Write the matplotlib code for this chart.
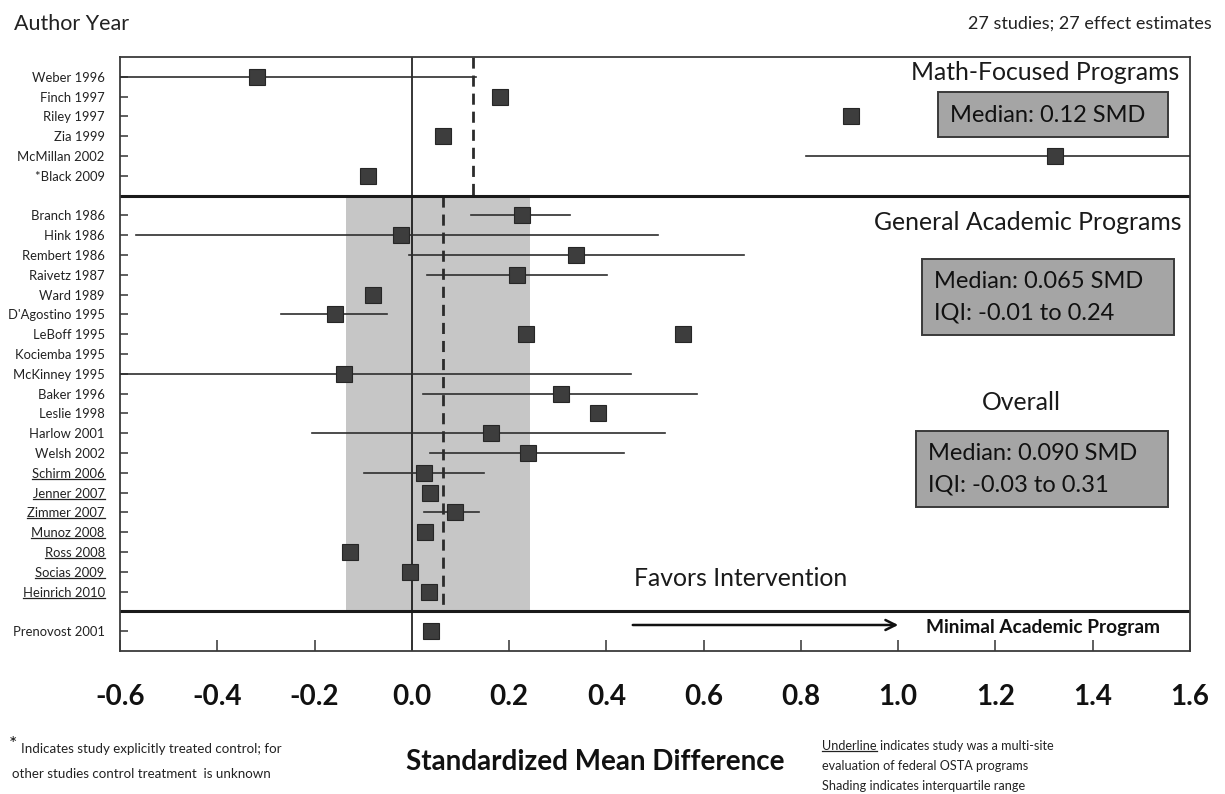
import numpy as np
import matplotlib
matplotlib.use("Agg")
import matplotlib.pyplot as plt
from matplotlib.patches import Rectangle, FancyArrowPatch
from matplotlib.lines import Line2D

plt.rcParams['font.family'] = ['Lato', 'DejaVu Sans']

# studies by group (top to bottom)
math_names = ["Weber 1996", "Finch 1997", "Riley 1997", "Zia 1999", "McMillan 2002", "*Black 2009"]
math_smd = [-0.319, 0.181, 0.903, 0.064, 1.322, -0.090]
math_lo = [-0.70, np.nan, np.nan, np.nan, 0.811, np.nan]
math_hi = [0.132, np.nan, np.nan, np.nan, 1.70, np.nan]

gen_names = ["Branch 1986", "Hink 1986", "Rembert 1986", "Raivetz 1987", "Ward 1989",
             "D'Agostino 1995", "LeBoff 1995", "Kociemba 1995", "McKinney 1995", "Baker 1996",
             "Leslie 1998", "Harlow 2001", "Welsh 2002", "Schirm 2006", "Jenner 2007",
             "Zimmer 2007", "Munoz 2008", "Ross 2008", "Socias 2009", "Heinrich 2010"]
gen_smd = [0.226, -0.023, 0.338, 0.217, -0.080, -0.158, 0.234, 0.557, -0.140, 0.306,
           0.383, 0.162, 0.238, 0.025, 0.038, 0.088, 0.027, -0.127, -0.003, 0.035]
gen_lo = [0.122, -0.567, -0.006, 0.031, np.nan, -0.269, np.nan, np.nan, -0.70, 0.023,
          np.nan, -0.205, 0.038, -0.099, np.nan, 0.025, np.nan, np.nan, np.nan, np.nan]
gen_hi = [0.326, 0.506, 0.683, 0.401, np.nan, -0.051, np.nan, np.nan, 0.450, 0.587,
          np.nan, 0.520, 0.437, 0.148, np.nan, 0.139, np.nan, np.nan, np.nan, np.nan]
# in the source the Kociemba square sits on the LeBoff row
gen_row_shift = [0, 0, 0, 0, 0, 0, 0, -1, 0, 0, 0, 0, 0, 0, 0, 0, 0, 0, 0, 0]
multisite = ["Schirm 2006", "Jenner 2007", "Zimmer 2007", "Munoz 2008", "Ross 2008",
             "Socias 2009", "Heinrich 2010"]

min_names = ["Prenovost 2001"]
min_smd = [0.039]
min_lo = [np.nan]
min_hi = [np.nan]

math_median = 0.125
gen_median = 0.065
shade_lo, shade_hi = -0.135, 0.242

xticks = [-0.6, -0.4, -0.2, 0.0, 0.2, 0.4, 0.6, 0.8, 1.0, 1.2, 1.4, 1.6]

W, H = 1225, 794
fig = plt.figure(figsize=(W / 100, H / 100), dpi=100)


def fx(x):
    return x / W


def fy(y):
    return 1 - y / H


ax = fig.add_axes([fx(120), fy(651), fx(1190) - fx(120), fy(57) - fy(651)])

# rows: one row per study, a spacer row between groups
r0 = 1
math_rows = list(range(r0, r0 + len(math_names)))
sep1 = math_rows[-1] + 1
gen_rows = list(range(sep1 + 1, sep1 + 1 + len(gen_names)))
sep2 = gen_rows[-1] + 1
min_rows = list(range(sep2 + 1, sep2 + 1 + len(min_names)))
ybottom = min_rows[-1] + 1

names = math_names + gen_names + min_names
rows = math_rows + gen_rows + min_rows
smd = math_smd + gen_smd + min_smd
lo = math_lo + gen_lo + min_lo
hi = math_hi + gen_hi + min_hi
mrows = math_rows + [r + s for r, s in zip(gen_rows, gen_row_shift)] + min_rows

ax.set_xlim(-0.6, 1.6)
ax.set_ylim(ybottom, 0)

# interquartile shading
ax.fill_betweenx([sep1, sep2], shade_lo, shade_hi, color='#c6c6c6', lw=0, zorder=0)

ax.axvline(0, color='black', lw=1.1, zorder=1)
ax.plot([math_median, math_median], [0, sep1], color='#2b2b2b', lw=2, ls=(0, (4, 2.5)), zorder=1)
ax.plot([gen_median, gen_median], [sep1, sep2], color='#2b2b2b', lw=2, ls=(0, (4, 2.5)), zorder=1)
ax.axhline(sep1, color='#1a1a1a', lw=2.2, zorder=2)
ax.axhline(sep2, color='#1a1a1a', lw=2.2, zorder=2)

for r, l, h in zip(rows, lo, hi):
    if not np.isnan(l):
        ax.plot([l, h], [r, r], color='#2e2e2e', lw=1.2, zorder=3)
ax.plot(smd, mrows, ls='none', marker='s', ms=11, color='#3d3d3d', mec='#262626', mew=0.8, zorder=4)

for s in ax.spines.values():
    s.set_color('#3a3a3a')
    s.set_linewidth(1.3)

ax.set_yticks(rows)
ax.set_yticklabels(names, fontsize=9.4, color='#222222')
ax.tick_params(axis='y', direction='in', length=6, width=1.1, color='#333333', pad=11)

ax.set_xticks(xticks)
ax.set_xticklabels(['%.1f' % t for t in xticks], fontsize=20, fontweight='bold', color='#111111')
ax.tick_params(axis='x', direction='in', length=8, width=1.1, color='#333333', pad=24)

# headings
fig.text(fx(14), fy(24), "Author Year", fontsize=15.5, va='center', ha='left', color='#222222')
fig.text(fx(1212), fy(24), "27 studies; 27 effect estimates", fontsize=13, va='center', ha='right',
         color='#222222')
fig.text(fx(1179), fy(72), "Math-Focused Programs", fontsize=17.8, va='center', ha='right', color='#1a1a1a')
fig.text(fx(1181), fy(222), "General Academic Programs", fontsize=17.8, va='center', ha='right',
         color='#1a1a1a')
fig.text(fx(1021), fy(402), "Overall", fontsize=17.8, va='center', ha='center', color='#1a1a1a')
fig.text(fx(634), fy(578), "Favors Intervention", fontsize=17.8, va='center', ha='left', color='#1a1a1a')

# summary boxes
boxes = [
    ((938, 92, 1168, 137), ["Median: 0.12 SMD"], [115]),
    ((922, 259, 1174, 335), ["Median: 0.065 SMD", "IQI: -0.01 to 0.24"], [281, 313]),
    ((916, 431, 1168, 507), ["Median: 0.090 SMD", "IQI: -0.03 to 0.31"], [453, 485]),
]
for (x0, y0, x1, y1), lines, ys in boxes:
    fig.add_artist(Rectangle((fx(x0), fy(y1)), fx(x1) - fx(x0), fy(y0) - fy(y1),
                             transform=fig.transFigure, facecolor='#a5a5a5', edgecolor='#3a3a3a', lw=1.4))
    for t, yy in zip(lines, ys):
        fig.text(fx(x0 + 12), fy(yy), t, fontsize=17, va='center', ha='left', color='#111111')

# arrow and minimal program label
fig.add_artist(FancyArrowPatch((fx(630), fy(625)), (fx(901), fy(625)),
                               transform=fig.transFigure, arrowstyle='->',
                               mutation_scale=18, lw=1.8, color='#111111'))
fig.text(fx(926), fy(627), "Minimal Academic Program", fontsize=13.8, fontweight='bold',
         va='center', ha='left', color='#111111')

# axis title and footnotes
fig.text(fx(595), fy(762), "Standardized Mean Difference", fontsize=20, fontweight='bold',
         va='center', ha='center', color='#111111')
fig.text(fx(9), fy(745), "*", fontsize=14, va='center', ha='left', color='#111111')
fig.text(fx(21), fy(749), "Indicates study explicitly treated control; for", fontsize=9.6,
         va='center', ha='left', color='#222222')
fig.text(fx(12), fy(774), "other studies control treatment  is unknown", fontsize=9.6,
         va='center', ha='left', color='#222222')
ul = fig.text(fx(822), fy(746), "Underline", fontsize=9.1, va='center', ha='left', color='#222222')
fig.text(fx(822), fy(766), "evaluation of federal OSTA programs", fontsize=9.1, va='center', ha='left',
         color='#222222')
fig.text(fx(822), fy(786), "Shading indicates interquartile range", fontsize=9.1, va='center', ha='left',
         color='#222222')

# underline the multi-site studies and the footnote keyword
fig.canvas.draw()
rend = fig.canvas.get_renderer()
to_fig = fig.transFigure.inverted()


def underline(bb):
    (ax0, ay0), (ax1, _) = to_fig.transform([(bb.x0, bb.y0 + 1), (bb.x1, bb.y0 + 1)])
    fig.add_artist(Line2D([ax0, ax1], [ay0, ay0], transform=fig.transFigure, color='#222222', lw=0.9))


for lab in ax.get_yticklabels():
    if lab.get_text() in multisite:
        underline(lab.get_window_extent(rend))
bb = ul.get_window_extent(rend)
underline(bb)
fig.text(to_fig.transform((bb.x1 + 3, 0))[0], fy(746), "indicates study was a multi-site",
         fontsize=9.1, va='center', ha='left', color='#222222')

fig.savefig("out.png", dpi=100)
